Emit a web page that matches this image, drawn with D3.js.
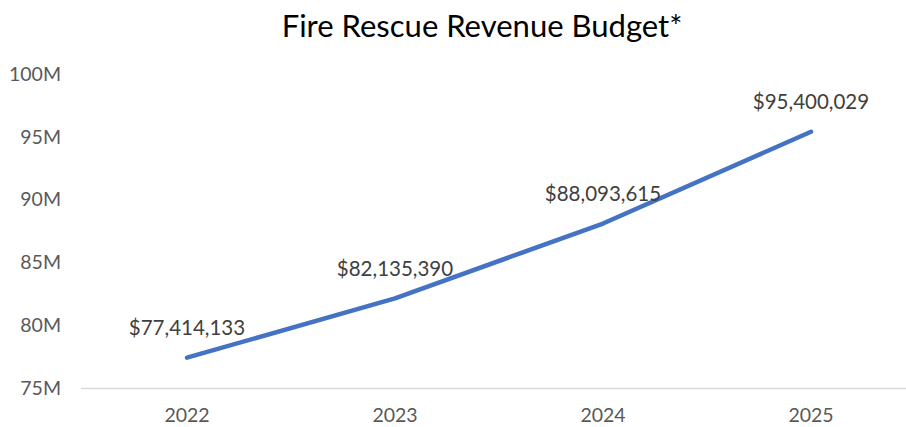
<!DOCTYPE html>
<html><head><meta charset="utf-8">
<script src="https://cdn.jsdelivr.net/npm/d3@7"></script>
<style>html,body{margin:0;padding:0;background:#fff;}svg{display:block;font-family:Lato,"Open Sans",sans-serif;}</style>
</head><body>
<svg id="chart" width="906" height="427"></svg>
<script>
const years = ["2022","2023","2024","2025"];
const revenue = [77414133, 82135390, 88093615, 95400029];
const yTicks = [75e6, 80e6, 85e6, 90e6, 95e6, 100e6];
const title = "Fire Rescue Revenue Budget*";

const svg = d3.select("#chart");
const x = d3.scaleBand().domain(years).range([83, 915]).padding(0);
const y = d3.scaleLinear().domain([75e6, 100e6]).range([388, 74]);
const cx = d => x(d) + x.bandwidth()/2;

function fit(sel, target) {
  const w = sel.node().getComputedTextLength();
  const fs = parseFloat(sel.attr("font-size"));
  sel.attr("font-size", fs * target / w);
}

// title
const t = svg.append("text").attr("x", 482).attr("y", 37).attr("text-anchor","middle")
  .attr("font-size", 29).attr("fill","#000").text(title);
fit(t, 401);

// y axis labels
const yAxis = svg.append("g").attr("transform","translate(61,0)")
  .call(d3.axisLeft(y).tickValues(yTicks).tickSize(0).tickPadding(0).tickFormat(d => (d/1e6) + "M"));
yAxis.select(".domain").remove();
yAxis.selectAll("text").attr("font-size", 19.5).attr("fill","#595959").attr("font-family","Lato,'Open Sans',sans-serif");

// x axis line
svg.append("line").attr("x1", 81).attr("x2", 906).attr("y1", y(75e6)+0.5).attr("y2", y(75e6)+0.5)
  .attr("stroke","#d9d9d9").attr("stroke-width",1.5);

const xAxis = svg.append("g").attr("transform","translate(0,415)")
  .call(d3.axisBottom(x).tickSize(0).tickPadding(0));
xAxis.select(".domain").remove();
xAxis.selectAll("text").attr("font-size", 19.5).attr("fill","#595959").attr("dy","0.35em").attr("font-family","Lato,'Open Sans',sans-serif");

// line
const line = d3.line().x((d,i) => cx(years[i])).y(d => y(d));
svg.append("path").datum(revenue).attr("d", line).attr("fill","none")
  .attr("stroke","#4472C4").attr("stroke-width",4.5).attr("stroke-linecap","round").attr("stroke-linejoin","round");

// labels
const fmt = d3.format("$,");
svg.selectAll(".lbl").data(revenue).join("text").attr("class","lbl")
  .attr("x",(d,i)=>cx(years[i])).attr("y", d => y(d) - 30).attr("dy","0.35em")
  .attr("text-anchor","middle").attr("font-size",20.5).attr("fill","#404040").text(d => fmt(d));
</script>
</body></html>
